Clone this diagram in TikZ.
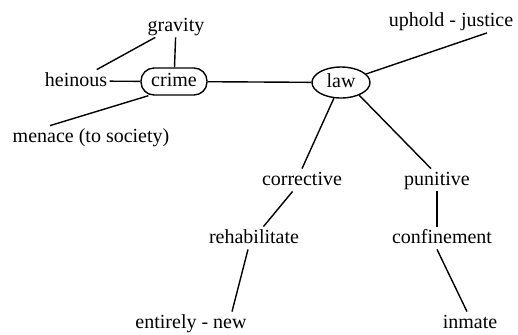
\documentclass[tikz,border=0pt]{standalone}
\usepackage{fontspec}
\setmainfont{Liberation Serif}
\usepackage{tikz}
\usetikzlibrary{shapes.geometric}
\tikzset{
  term/.style={inner sep=1pt,text height=7pt,text depth=2pt,font=\fontsize{10}{12}\selectfont},
  crimebox/.style={term,draw,rounded corners=6.5pt,line width=.7pt,minimum width=33pt,minimum height=13.5pt,inner sep=0pt},
  lawbox/.style={term,draw,ellipse,line width=.7pt,minimum width=29pt,minimum height=15.5pt,inner sep=0pt},
  link/.style={line width=.7pt,black}
}
\begin{document}
\begin{tikzpicture}[x=0.5pt,y=-0.5pt]
  \useasboundingbox (0,0) rectangle (518,334);
  % crime and its terms
  \node[crimebox] (crime) at (174,81.5) {crime};
  \node[term] (gravity) at (176,26) {gravity};
  \node[term] (heinous) at (76,81) {heinous};
  \node[term] (menace) at (91,137) {menace (to society)};
  \draw[link] (gravity) -- (heinous);
  \draw[link] (gravity) -- (crime);
  \draw[link] (heinous) -- (crime);
  \draw[link] ([xshift=-20.5pt]menace.north) -- (crime.209);

  % law
  \node[lawbox] (law) at (341,82.5) {law};
  \node[term] (uphold) at (451,21.5) {uphold - justice};
  \draw[link] (crime) -- (law);
  \draw[link] (law) -- ([xshift=18pt]uphold.south);

  % corrective branch
  \node[term] (corrective) at (302,180) {corrective};
  \node[term] (rehab) at (254,238) {rehabilitate};
  \node[term] (entirely) at (191,323) {entirely - new};
  \draw[link] (law) -- (corrective.north);
  \draw[link] (corrective) -- (rehab);
  \draw[link] ([xshift=-3pt]rehab.south) -- ([xshift=20.5pt]entirely.north);

  % punitive branch
  \node[term] (punitive) at (437,180) {punitive};
  \node[term] (confinement) at (442,238) {confinement};
  \node[term] (inmate) at (470,323) {inmate};
  \draw[link] (law.-35) -- ([xshift=-3pt]punitive.north);
  \draw[link] (punitive.south) -- (punitive.south |- confinement.north);
  \draw[link] ([xshift=-2.5pt]confinement.south) -- ([xshift=-1.5pt]inmate.north);
\end{tikzpicture}
\end{document}
